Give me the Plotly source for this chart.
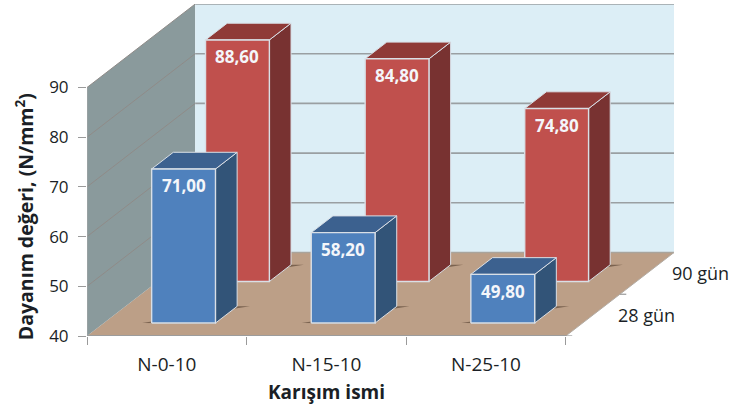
import plotly.graph_objects as go

# ---- data ----
categories = ["N-0-10", "N-15-10", "N-25-10"]
series_names = ["28 gün", "90 gün"]
values_28 = [71.0, 58.2, 49.8]
values_90 = [88.6, 84.8, 74.8]
y_ticks = [40, 50, 60, 70, 80, 90]

# ---- oblique projection of the Excel 3-D box ----
SX = 0.678   # x units per full depth
SY = 16.8    # y units per full depth
Y0 = 40
YTOP = 90
BAR_L, BAR_R = 0.30, 0.70
DEPTH = {0: (0.155, 0.355), 1: (0.653, 0.853)}
FONT = "Open Sans"
TXT = "#1b1f26"


def P(c, d, v):
    return c + d * SX, v + d * SY


def poly(pts):
    return [p[0] for p in pts] + [pts[0][0], None], [p[1] for p in pts] + [pts[0][1], None]


fig = go.Figure()


def add_polys(polys, fill, line="rgba(0,0,0,0)", width=0, clip=True):
    xs, ys = [], []
    for pts in polys:
        a, b = poly(pts)
        xs += a
        ys += b
    fig.add_trace(go.Scatter(x=xs, y=ys, mode="lines", fill="toself", fillcolor=fill,
                             line=dict(color=line, width=width), hoverinfo="skip",
                             showlegend=False, cliponaxis=clip))


def add_line(pts, color, width):
    fig.add_trace(go.Scatter(x=[p[0] for p in pts], y=[p[1] for p in pts], mode="lines",
                             line=dict(color=color, width=width), hoverinfo="skip",
                             showlegend=False, cliponaxis=False))


N = len(categories)
# floor and walls
add_polys([[P(0, 0, Y0), P(N, 0, Y0), P(N, 1, Y0), P(0, 1, Y0)]], "#bc9f87")
add_polys([[P(0, 0, Y0), P(0, 1, Y0), P(0, 1, YTOP), P(0, 0, YTOP)]], "#8a9a9c")
add_polys([[P(0, 1, Y0), P(N, 1, Y0), P(N, 1, YTOP), P(0, 1, YTOP)]], "#dcEEf6")

# gridlines
for t in y_ticks:
    if t > Y0:
        add_line([P(0, 0, t), P(0, 1, t)], "#8f8b88", 1)
        add_line([P(0, 1, t), P(N, 1, t)], "#9a9fa2", 1.6)
add_line([P(0, 1, Y0), P(N, 1, Y0)], "#a9a49c", 1.6)
add_line([P(0, 0, Y0), P(N, 0, Y0)], "#9c9c9c", 2)
add_line([P(0, 0, Y0), P(0, 0, YTOP)], "#a2a6a7", 1.2)
add_line([P(N, 0, Y0), P(N, 1, Y0)], "#b3aca4", 1)

# depth axis ticks
for d in (0, 0.5, 1):
    add_line([P(N, d, Y0), P(N + 0.04, d, Y0)], "#9a9a9a", 1.2)


def bars(idx, vals, front, side, top):
    d0, d1 = DEPTH[idx]
    shadows = []
    for i in range(N):
        shadows.append([P(i + BAR_L - 0.06, d0, Y0), P(i + BAR_R, d0 - 0.005, Y0),
                        P(i + BAR_R, d1, Y0), P(i + BAR_R + 0.08, d1, Y0)])
    add_polys(shadows, "rgba(70,50,35,0.55)")
    f, s, tp = [], [], []
    for i, v in enumerate(vals):
        l, r = i + BAR_L, i + BAR_R
        f.append([P(l, d0, Y0), P(r, d0, Y0), P(r, d0, v), P(l, d0, v)])
        s.append([P(r, d0, Y0), P(r, d1, Y0), P(r, d1, v), P(r, d0, v)])
        tp.append([P(l, d0, v), P(r, d0, v), P(r, d1, v), P(l, d1, v)])
    add_polys(s, side, "#d9dfe6", 1)
    add_polys(tp, top, "#d9dfe6", 1)
    add_polys(f, front, "#d9dfe6", 1.4)


bars(1, values_90, "#c0504d", "#783231", "#8f3a37")
bars(0, values_28, "#4f81bd", "#325478", "#3c618f")

annotations = []
# data labels
for idx, vals in ((1, values_90), (0, values_28)):
    for i, v in enumerate(vals):
        x, y = P(i + 0.5, DEPTH[idx][0], v)
        annotations.append(dict(x=x, y=y, xref="x", yref="y", yshift=-17, showarrow=False,
                                text="<b>" + f"{v:.2f}".replace(".", ",") + "</b>",
                                font=dict(family=FONT, size=17, color="#f4f6fa")))
# depth labels
for name, d in zip(series_names, (0.25, 0.75)):
    x, y = P(N, d, Y0)
    annotations.append(dict(x=x, y=y, xref="x", yref="y", xshift=54, yshift=0, showarrow=False,
                            text=name, font=dict(family=FONT, size=18, color=TXT)))
# axis titles
annotations.append(dict(x=N / 2, y=0, xref="x", yref="paper", yshift=-71, showarrow=False,
                        text="<b>Karışım ismi</b>", font=dict(family=FONT, size=19, color=TXT)))
annotations.append(dict(x=0, y=64, xref="paper", yref="y", xshift=-79, showarrow=False, textangle=-90,
                        text="<b>Dayanım değeri, (N/mm<sup>2</sup>)</b>",
                        font=dict(family=FONT, size=19.5, color=TXT)))

fig.update_layout(
    width=735, height=411,
    margin=dict(l=87, r=61, t=4, b=75, pad=0),
    paper_bgcolor="white", plot_bgcolor="white",
    showlegend=False,
    annotations=annotations,
    xaxis=dict(range=[0, N + SX], tickvals=[i + 0.5 for i in range(N)], ticktext=categories,
               ticks="", showgrid=False, zeroline=False, showline=False,
               ticklabelstandoff=15,
               tickfont=dict(family=FONT, size=19, color=TXT),
               minor=dict(tickvals=list(range(N + 1)), ticks="outside", ticklen=8,
                          tickcolor="#9a9a9a", tickwidth=1.2, showgrid=False)),
    yaxis=dict(range=[Y0, YTOP + SY], tickvals=y_ticks, ticks="outside", ticklen=8,
               tickcolor="#9a9a9a", tickwidth=1.2, showgrid=False, zeroline=False, showline=False,
               ticklabelstandoff=6,
               tickfont=dict(family=FONT, size=17, color=TXT)),
)
fig.write_html("out.html", config={"displayModeBar": False},
               post_script="document.body.style.margin='0';document.body.style.overflow='hidden';")
